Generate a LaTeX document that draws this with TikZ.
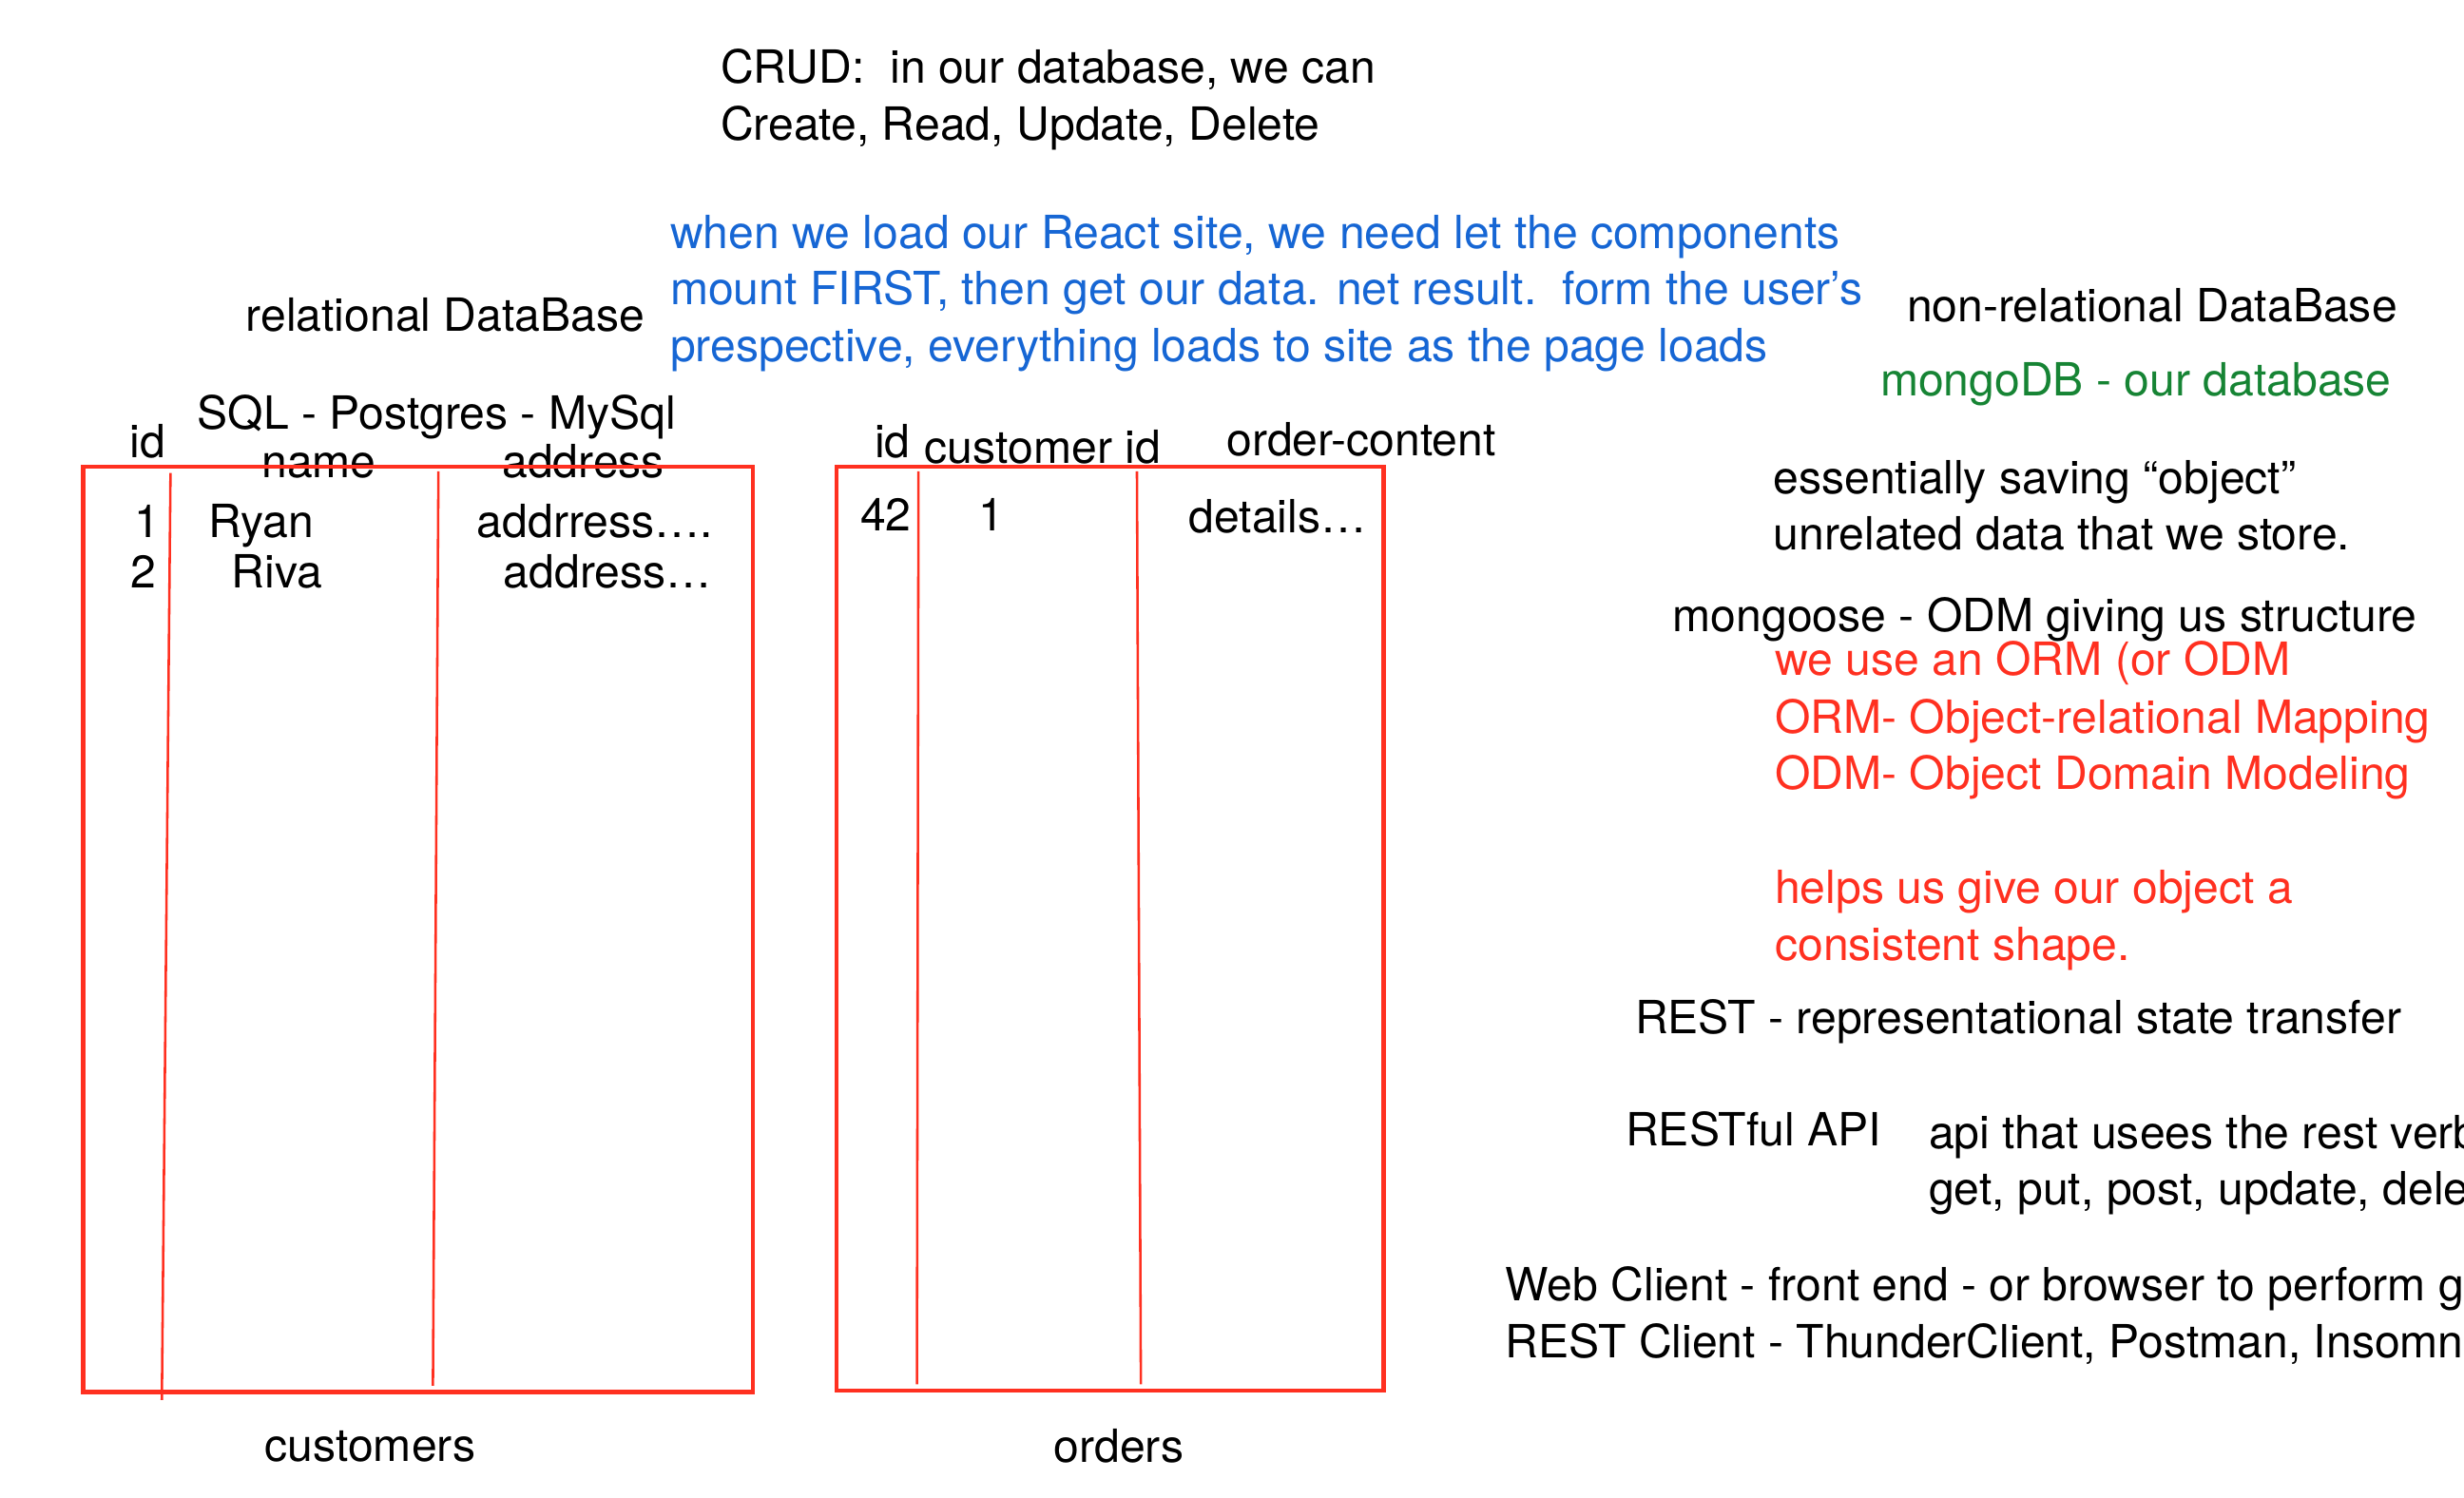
\documentclass[tikz,border=0pt]{standalone}
\usepackage{fontspec}
\setmainfont{TeX Gyre Heros}
\usepackage{tikz}

\definecolor{noteblue}{RGB}{22,102,212}
\definecolor{notered}{RGB}{255,48,32}
\definecolor{notegreen}{RGB}{22,132,52}

\begin{document}
\begin{tikzpicture}[x=0.0125cm, y=-0.0125cm,
    every node/.style = {font=\fontsize{10.35}{12.8}\selectfont},
    note/.style = {anchor=base west, inner sep=0pt},
    bluenote/.style = {note, text=noteblue},
    rednote/.style = {note, text=notered},
    greennote/.style = {note, text=notegreen},
    tbl/.style = {draw=notered, line width=0.95pt},
    col/.style = {draw=notered, line width=0.55pt}]
            \useasboundingbox (0,0) rectangle (1568,953);
            \clip (0,0) rectangle (1568,953);

            % top notes
            \node[note] (crud) at (458,53) {CRUD:\ \ in our database, we can};
            \node[note] (crudops) at (458,89) {Create, Read, Update, Delete};
            \node[bluenote] (react1) at (426,158) {when we load our React site, we need let the components};
            \node[bluenote] (react2) at (426,194) {mount FIRST, then get our data. net result.\ \ form the user’s};
            \node[bluenote] (react3) at (426,230) {prespective, everything loads to site as the page loads};

            % customers table
            \node[note] (rel) at (156,211) {relational DataBase};
            \node[note] (sql) at (125,273) {SQL - Postgres - MySql};
            \node[note] (cid) at (82,291) {id};
            \node[note] (cname) at (166,304) {name};
            \node[note] (caddr) at (319,304) {address};
            \draw[tbl] (53,297) rectangle (479,886);
            \draw[col] (108.5,301) -- (103,891);
            \draw[col] (279,300) -- (275.5,882);
            \node[note] (c1) at (85,342) {1};
            \node[note] (cryan) at (132,342) {Ryan};
            \node[note] (caddr1) at (303,342) {addrress….};
            \node[note] (c2) at (82.5,374) {2};
            \node[note] (criva) at (147,374) {Riva};
            \node[note] (caddr2) at (320,374) {address…};
            \node[note] (customers) at (168,930) {customers};

            % orders table
            \node[note] (oid) at (556,291) {id};
            \node[note] (ocust) at (588,295) {customer id};
            \node[note] (ocontent) at (780,290) {order-content};
            \draw[tbl] (532.5,297) rectangle (880.5,885);
            \draw[col] (584.5,300) -- (583.5,881);
            \draw[col] (723.5,300) -- (726,881);
            \node[note] (o42) at (547,338) {42};
            \node[note] (o1) at (622,338) {1};
            \node[note] (odetails) at (756,339) {details…};
            \node[note] (orders) at (670,931) {orders};

            % non-relational notes
            \node[note] (nonrel) at (1213,205) {non-relational DataBase};
            \node[greennote] (mongo) at (1196,252) {mongoDB - our database};
            \node[note] (saving) at (1128,314) {essentially saving “object”};
            \node[note] (unrel) at (1128,350) {unrelated data that we store.};
            \node[note] (goose) at (1064,402) {mongoose - ODM giving us structure};
            \node[rednote] (orm) at (1129,430) {we use an ORM (or ODM};
            \node[rednote] (ormdef) at (1129,466.5) {ORM- Object-relational Mapping};
            \node[rednote] (odmdef) at (1129,502.5) {ODM- Object Domain Modeling};
            \node[rednote] (shape1) at (1129,575) {helps us give our object a};
            \node[rednote] (shape2) at (1129,611) {consistent shape.};

            % REST notes
            \node[note] (rest) at (1040,658) {REST - representational state transfer};
            \node[note] (restful) at (1034,729) {RESTful API};
            \node[note] (verbs1) at (1227,731) {api that usees the rest verbs};
            \node[note] (verbs2) at (1227,767) {get, put, post, update, delete};
            \node[note] (web) at (957.5,828) {Web Client - front end - or browser to perform get};
            \node[note] (restclient) at (957.5,864) {REST Client - ThunderClient, Postman, Insomnia};
        \end{tikzpicture}
\end{document}
